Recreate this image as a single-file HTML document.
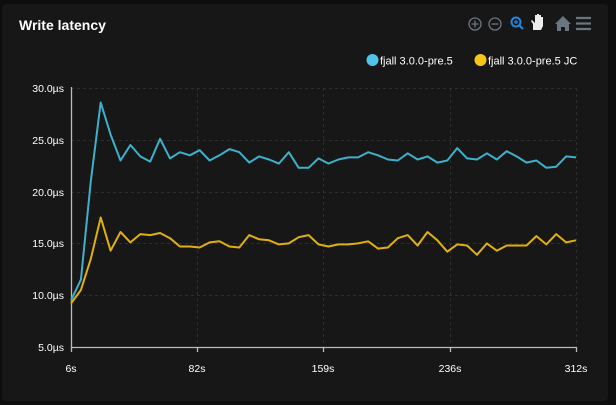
<!DOCTYPE html>
<html><head><meta charset="utf-8"><style>
html,body{margin:0;padding:0;background:#0d0d0d;width:616px;height:405px;overflow:hidden;font-family:"Liberation Sans",sans-serif}
#card{position:absolute;left:2px;top:4px;width:606px;height:397px;background:#171717;border-radius:4px}
</style></head><body>
<div id="card"></div>
<svg width="616" height="405" style="position:absolute;left:0;top:0" id="s">
<text x="19" y="30" fill="#fff" font-size="14" font-weight="bold">Write latency</text>
<g stroke="#6b7580" fill="none" stroke-width="1.3">
<circle cx="475" cy="24" r="6"/><path d="M471.5 24h7M475 20.5v7"/>
<circle cx="495" cy="24" r="6"/><path d="M491.5 24h7"/>
</g>
<g stroke="#1e88e5" fill="none" stroke-width="2"><circle cx="516" cy="22" r="4.5"/><path d="M519 25l4 4"/><path d="M514 22h4M516 20v4" stroke-width="1.3"/></g>
<path d="M533 30v-6l-2-3 1-1 3 3v-8h2v6v-7h2v7v-6h2v7v-5h2v9l-2 4z" fill="#eee"/>
<path d="M555 24l8-8 8 8h-2v7h-4v-4h-4v4h-4v-7z" fill="#6b7580"/>
<g stroke="#6b7580" stroke-width="2.2"><path d="M576 18h15M576 23.5h15M576 29h15"/></g>
<circle cx="372.5" cy="60" r="6" fill="#4fc3e8"/><text x="380" y="64.5" fill="#fff" font-size="11">fjall 3.0.0-pre.5</text>
<circle cx="480.5" cy="60" r="6" fill="#f5c518"/><text x="488" y="64.5" fill="#fff" font-size="11">fjall 3.0.0-pre.5 JC</text>
<g stroke="#2e2e2e" stroke-dasharray="3,3" stroke-width="1" fill="none">
<path d="M71 88.5H576M71 140.5H576M71 192.5H576M71 243.5H576M71 295.5H576"/>
<path d="M197.5 88V347M323.5 88V347M450.5 88V347M576.5 88V347"/>
</g>
<g stroke="#bbb" stroke-width="1.3" fill="none"><path d="M71.5 87V347.5H576"/><path d="M71.5 347v5M197.5 347v5M323.5 347v5M450.5 347v5M576.5 347v5"/></g>
<g fill="#fff" font-size="10.5" text-anchor="end">
<text x="64" y="92">30.0µs</text><text x="64" y="144">25.0µs</text><text x="64" y="196">20.0µs</text><text x="64" y="247">15.0µs</text><text x="64" y="299">10.0µs</text><text x="64" y="351">5.0µs</text>
</g>
<g fill="#fff" font-size="10.5" text-anchor="middle">
<text x="71" y="372">6s</text><text x="197" y="372">82s</text><text x="323" y="372">159s</text><text x="450" y="372">236s</text><text x="576" y="372">312s</text>
</g>
<polyline id="b" fill="none" stroke="#3fb0cc" stroke-width="2" stroke-linejoin="round"/>
<polyline id="y" fill="none" stroke="#e0b010" stroke-width="2" stroke-linejoin="round"/>
</svg>
<script>
var B=[9.5,11.5,21,28.6,25.5,23,24.5,23.4,22.9,25.1,23.2,23.8,23.5,24,23,23.5,24.1,23.8,22.8,23.4,23.1,22.7,23.8,22.3,22.3,23.2,22.7,23.1,23.3,23.3,23.8,23.5,23.1,23,23.7,23.1,23.4,22.8,23,24.2,23.2,23.1,23.7,23.1,23.9,23.4,22.8,23,22.3,22.4,23.4,23.3];
var Y=[9.2,10.5,13.5,17.5,14.3,16.1,15.1,15.9,15.8,16,15.5,14.7,14.7,14.6,15.1,15.2,14.7,14.6,15.8,15.4,15.3,14.9,15,15.6,15.8,14.9,14.7,14.9,14.9,15,15.2,14.5,14.6,15.5,15.8,14.8,16.1,15.3,14.2,14.9,14.8,13.9,15,14.3,14.8,14.8,14.8,15.7,14.9,15.9,15.1,15.3];
function p(a){var n=a.length-1;return a.map(function(v,i){return (71+i*505/n).toFixed(1)+","+(88+(30-v)*10.36).toFixed(1)}).join(" ")}
document.getElementById("b").setAttribute("points",p(B));
document.getElementById("y").setAttribute("points",p(Y));
</script>
</body></html>
